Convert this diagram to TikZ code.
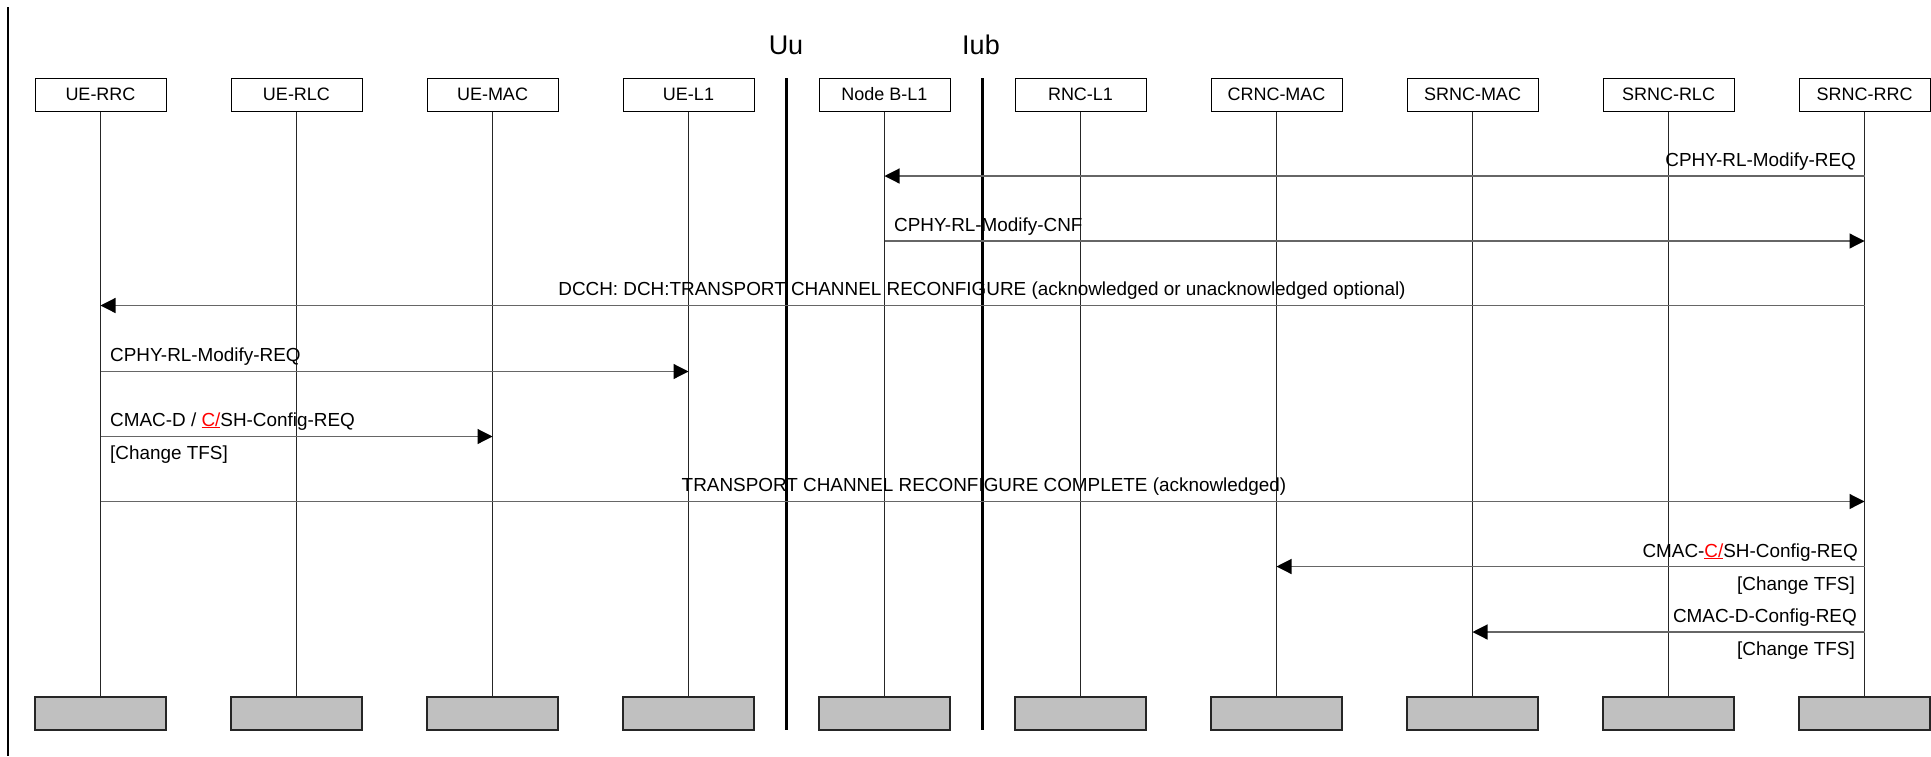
\documentclass[tikz,border=0pt]{standalone}
\usepackage{fontspec}
\setmainfont{Liberation Sans}
\usetikzlibrary{arrows.meta}
\definecolor{boxgray}{HTML}{C0C0C0}
\definecolor{msggray}{HTML}{666666}
\newcommand{\redc}{\textcolor{red}{\underline{C/}}}
\begin{document}
\begin{tikzpicture}[x=1pt,y=-1pt,
  every node/.style={font=\fontsize{18}{21}\selectfont},
  lifebox/.style={draw=black,line width=1pt,minimum width=131pt,minimum height=33pt,inner sep=0pt},
  endbox/.style={draw=black!85,fill=boxgray,line width=1.3pt,minimum width=131pt,minimum height=33pt,inner sep=0pt},
  life/.style={black!85,line width=1pt},
  iface/.style={black,line width=2.2pt},
  msg/.style={msggray,line width=1.2pt,-{Triangle[length=15pt,width=15pt,color=black]}},
  lbl/.style={inner sep=0pt,font=\fontsize{18.9}{22}\selectfont}]
\useasboundingbox (0,0) rectangle (1931,756);
\draw[black,line width=2.5pt] (8,7)--(8,756);
% interfaces
\node at (786,45) {\fontsize{27}{31}\selectfont Uu};
\node at (981,45) {\fontsize{27}{31}\selectfont Iub};
\draw[iface] (786.5,78)--(786.5,730);
\draw[iface] (982.5,78)--(982.5,730);
% entities
\node[lifebox] (uerrc)   at (100.5,94.5)  {UE-RRC};
\node[lifebox] (uerlc)   at (296.5,94.5)  {UE-RLC};
\node[lifebox] (uemac)   at (492.5,94.5)  {UE-MAC};
\node[lifebox] (uel1)    at (688.5,94.5)  {UE-L1};
\node[lifebox] (nodeb)   at (884.5,94.5)  {Node B-L1};
\node[lifebox] (rncl1)   at (1080.5,94.5) {RNC-L1};
\node[lifebox] (crncmac) at (1276.5,94.5) {CRNC-MAC};
\node[lifebox] (srncmac) at (1472.5,94.5) {SRNC-MAC};
\node[lifebox] (srnclc)  at (1668.5,94.5) {SRNC-RLC};
\node[lifebox] (srncrrc) at (1864.5,94.5) {SRNC-RRC};
\node[endbox] (uerrc-end)   at (100.5,713.5)  {};
\node[endbox] (uerlc-end)   at (296.5,713.5)  {};
\node[endbox] (uemac-end)   at (492.5,713.5)  {};
\node[endbox] (uel1-end)    at (688.5,713.5)  {};
\node[endbox] (nodeb-end)   at (884.5,713.5)  {};
\node[endbox] (rncl1-end)   at (1080.5,713.5) {};
\node[endbox] (crncmac-end) at (1276.5,713.5) {};
\node[endbox] (srncmac-end) at (1472.5,713.5) {};
\node[endbox] (srnclc-end)  at (1668.5,713.5) {};
\node[endbox] (srncrrc-end) at (1864.5,713.5) {};
\draw[life] (uerrc)--(uerrc-end);
\draw[life] (uerlc)--(uerlc-end);
\draw[life] (uemac)--(uemac-end);
\draw[life] (uel1)--(uel1-end);
\draw[life] (nodeb)--(nodeb-end);
\draw[life] (rncl1)--(rncl1-end);
\draw[life] (crncmac)--(crncmac-end);
\draw[life] (srncmac)--(srncmac-end);
\draw[life] (srnclc)--(srnclc-end);
\draw[life] (srncrrc)--(srncrrc-end);
% messages
\draw[msg] (srncrrc |- 0,176)--(nodeb |- 0,176);
\node[lbl,anchor=base east] at (1856,166) {CPHY-RL-Modify-REQ};
\draw[msg] (nodeb |- 0,241)--(srncrrc |- 0,241);
\node[lbl,anchor=base west] at (894,231) {CPHY-RL-Modify-CNF};
\draw[msg] (srncrrc |- 0,305.5)--(uerrc |- 0,305.5);
\node[lbl,anchor=base] at (982,295) {DCCH: DCH:TRANSPORT CHANNEL RECONFIGURE (acknowledged or unacknowledged optional)};
\draw[msg] (uerrc |- 0,371.5)--(uel1 |- 0,371.5);
\node[lbl,anchor=base west] at (110,361) {CPHY-RL-Modify-REQ};
\draw[msg] (uerrc |- 0,436.5)--(uemac |- 0,436.5);
\node[lbl,anchor=base west] at (110,426) {CMAC-D / \redc SH-Config-REQ};
\node[lbl,anchor=base west] at (110,459) {[Change TFS]};
\draw[msg] (uerrc |- 0,501.5)--(srncrrc |- 0,501.5);
\node[lbl,anchor=base] at (984,491) {TRANSPORT CHANNEL RECONFIGURE COMPLETE (acknowledged)};
\draw[msg] (srncrrc |- 0,566.5)--(crncmac |- 0,566.5);
\node[lbl,anchor=base east] at (1858,557) {CMAC-\redc SH-Config-REQ};
\node[lbl,anchor=base east] at (1855,590) {[Change TFS]};
\draw[msg] (srncrrc |- 0,632)--(srncmac |- 0,632);
\node[lbl,anchor=base east] at (1857,622) {CMAC-D-Config-REQ};
\node[lbl,anchor=base east] at (1855,655) {[Change TFS]};
\end{tikzpicture}
\end{document}
